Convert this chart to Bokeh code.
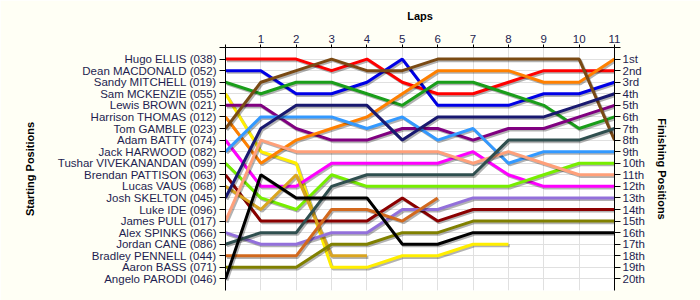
from bokeh.plotting import figure
from bokeh.models import LinearAxis, FixedTicker, Range1d
from bokeh.embed import file_html
from bokeh.resources import INLINE

laps = list(range(12))
lap_labels = [str(i) for i in range(1, 12)]

names = ["Hugo ELLIS (038)", "Dean MACDONALD (052)", "Sandy MITCHELL (019)",
         "Sam MCKENZIE (055)", "Lewis BROWN (021)", "Harrison THOMAS (012)",
         "Tom GAMBLE (023)", "Adam BATTY (074)", "Jack HARWOOD (082)",
         "Tushar VIVEKANANDAN (099)", "Brendan PATTISON (063)", "Lucas VAUS (068)",
         "Josh SKELTON (045)", "Luke IDE (096)", "James PULL (017)",
         "Alex SPINKS (066)", "Jordan CANE (086)", "Bradley PENNELL (044)",
         "Aaron BASS (071)", "Angelo PARODI (046)"]

finish_labels = ["1st", "2nd", "3rd", "4th", "5th", "6th", "7th", "8th", "9th", "10th",
                 "11th", "12th", "13th", "14th", "15th", "16th", "17th", "18th", "19th", "20th"]

pos_ellis = [1, 1, 1, 2, 1, 3, 4, 4, 3, 2, 2, 2]
pos_macdonald = [2, 2, 4, 4, 3, 1, 5, 5, 5, 4, 4, 3]
pos_mitchell = [3, 4, 3, 3, 4, 5, 3, 3, 4, 5, 7, 6]
pos_mckenzie = [4, 9, 10, 19, 19, 18, 18, 17, 17]
pos_brown = [5, 5, 7, 8, 8, 7, 7, 8, 7, 7, 6, 5]
pos_thomas = [6, 10, 8, 7, 6, 4, 2, 2, 2, 3, 3, 1]
pos_gamble = [7, 3, 2, 1, 2, 2, 1, 1, 1, 1, 1, 8]
pos_batty = [8, 12, 12, 10, 10, 10, 10, 9, 11, 12, 12, 12]
pos_harwood = [9, 6, 6, 6, 7, 6, 8, 7, 10, 9, 9, 9]
pos_vivekanandan = [10, 13, 14, 11, 12, 12, 12, 12, 12, 11, 10, 10]
pos_pattison = [11, 15, 15, 15, 15, 13, 15, 14, 14, 14, 14, 14]
pos_vaus = [12, 14, 11, 18, 18]
pos_skelton = [13, 7, 5, 5, 5, 8, 6, 6, 6, 6, 5, 4]
pos_ide = []
pos_pull = [15, 8, 9, 9, 9, 9, 9, 10, 9, 10, 11, 11]
pos_spinks = [16, 17, 17, 16, 16, 14, 14, 13, 13, 13, 13, 13]
pos_cane = [17, 16, 16, 12, 11, 11, 11, 11, 8, 8, 8, 7]
pos_pennell = [18, 18, 18, 14, 14, 15, 13]
pos_bass = [19, 19, 19, 17, 17, 16, 16, 15, 15, 15, 15, 15]
pos_parodi = [20, 11, 13, 13, 13, 17, 17, 16, 16, 16, 16, 16]

series = [pos_ellis, pos_macdonald, pos_mitchell, pos_mckenzie, pos_brown, pos_thomas,
          pos_gamble, pos_batty, pos_harwood, pos_vivekanandan, pos_pattison, pos_vaus,
          pos_skelton, pos_ide, pos_pull, pos_spinks, pos_cane, pos_pennell, pos_bass,
          pos_parodi]

colors = ["#ff0000", "#0000e6", "#1a9e1a", "#ffee00", "#800080", "#ff8000",
          "#7a4a14", "#ff00ff", "#3399ff", "#77ee00", "#8b0000", "#daa520",
          "#191970", "#999999", "#ffa07a", "#9370db", "#2f4f4f", "#d2691e",
          "#808000", "#000000"]

TXT = "#1e1e50"
FONT = "Liberation Sans"

p = figure(width=700, height=300, x_range=Range1d(0, 11), y_range=Range1d(21, 0),
           output_backend="svg", toolbar_location=None, x_axis_location="above",
           min_border_left=225, min_border_right=86, min_border_top=47, min_border_bottom=10,
           background_fill_color="#ffffff", border_fill_color="#fffff5",
           outline_line_color=None)

p.xgrid.grid_line_color = "#e0e0e0"
p.ygrid.grid_line_color = "#e0e0e0"
p.xgrid.ticker = FixedTicker(ticks=laps)
p.ygrid.ticker = FixedTicker(ticks=list(range(1, 21)))

xa = p.xaxis[0]
xa.ticker = FixedTicker(ticks=laps)
xa.major_label_overrides = {0: ""} | {i + 1: s for i, s in enumerate(lap_labels)}
xa.axis_label = "Laps"

ya = p.yaxis[0]
ya.ticker = FixedTicker(ticks=list(range(0, 21)))
ya.major_label_overrides = {0: ""} | {i + 1: n for i, n in enumerate(names)}
ya.axis_label = "Starting Positions"

ra = LinearAxis(ticker=FixedTicker(ticks=list(range(0, 21))),
                major_label_overrides={0: ""} | {i + 1: n for i, n in enumerate(finish_labels)},
                axis_label="Finishing Positions")
p.add_layout(ra, "right")

for ax in (xa, ya, ra):
    ax.minor_tick_line_color = None
    ax.major_tick_in = 0
    ax.axis_line_color = "#000000"
    ax.major_tick_line_color = "#000000"
    ax.major_label_text_font = FONT
    ax.major_label_text_font_size = "11.5px"
    ax.major_label_text_color = TXT
    ax.axis_label_text_font = FONT
    ax.axis_label_text_font_size = "11px"
    ax.axis_label_text_font_style = "bold"
    ax.axis_label_text_color = "#000000"

xa.major_tick_out = 3
xa.major_label_standoff = 2
xa.axis_label_standoff = 10
ya.major_tick_out = 6
ya.major_label_standoff = 3
ya.axis_label_standoff = 19
ra.major_tick_out = 6
ra.major_label_standoff = 2
ra.axis_label_standoff = 8

for pos, col in zip(series, colors):
    if not pos:
        continue
    xs = laps[:len(pos)]
    p.line([x + 0.04 for x in xs], [y + 0.14 for y in pos], line_color="#000000",
           line_alpha=0.3, line_width=3)
    p.line(xs, pos, line_color=col, line_width=3)

open("out.html", "w").write(file_html(p, INLINE))
